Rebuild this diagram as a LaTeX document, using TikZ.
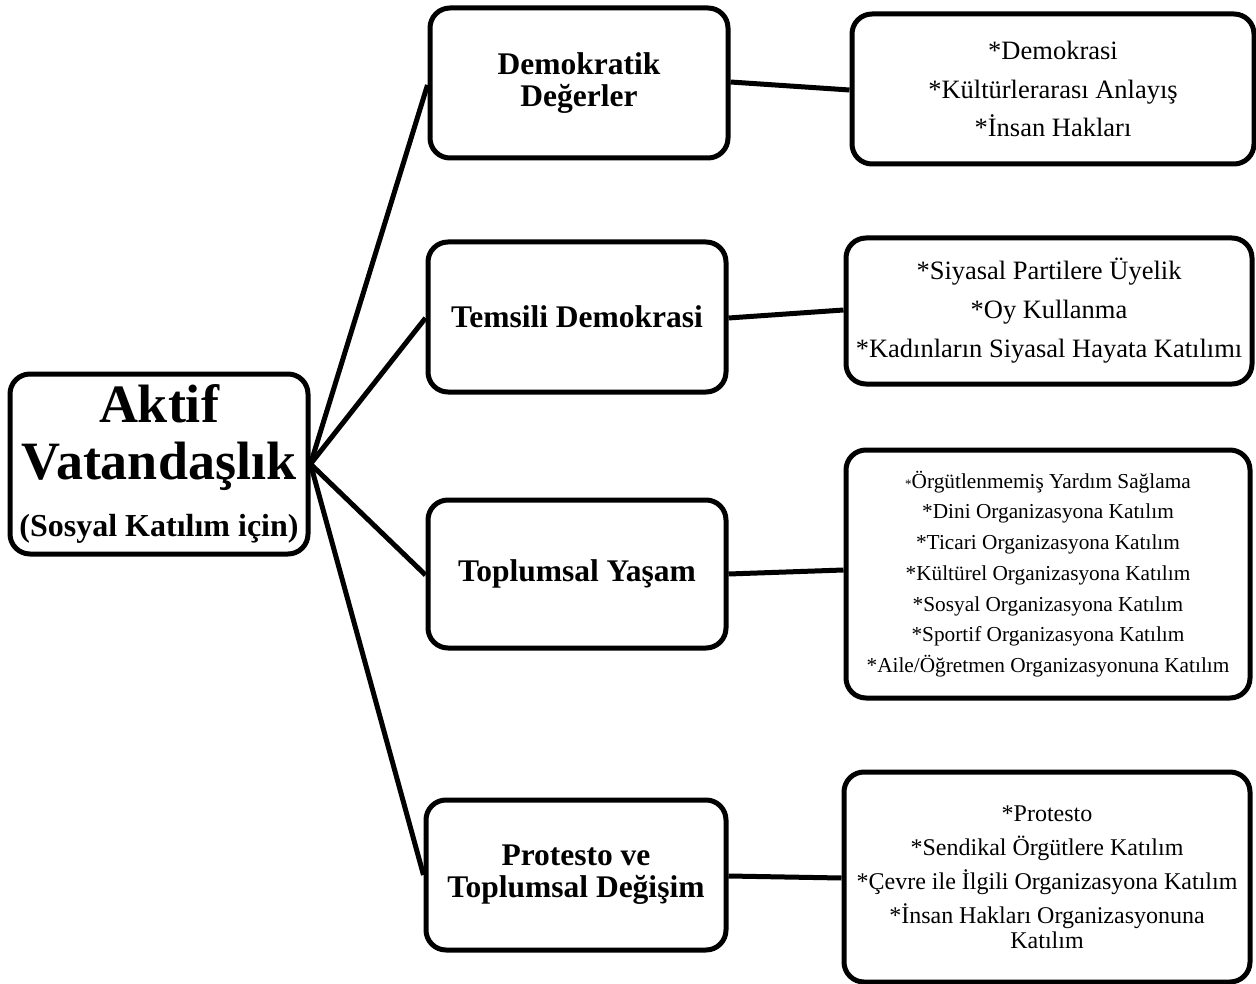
\documentclass[tikz,border=0pt]{standalone}
\usepackage{fontspec}
\setmainfont{Liberation Serif}
\begin{document}
\begin{tikzpicture}[x=1pt,y=-1pt,
  box/.style={draw=black, line width=5pt, rounded corners=20pt, fill=white, align=center, inner sep=0pt},
  midbox/.style={box, minimum width=298pt, minimum height=150pt, font=\bfseries\fontsize{31.5}{32}\selectfont},
  link/.style={line width=5pt}]
\useasboundingbox (0,0) rectangle (1256,984);
% root
\node[box, minimum width=298pt, minimum height=180pt, font=\bfseries\fontsize{54}{57}\selectfont] (root) at (159,464)
  {Aktif\\Vatandaşlık\\[0pt]{\fontsize{32}{34}\selectfont(Sosyal Katılım için)}};
% middle
\node[midbox] (m1) at (579,83) {Demokratik\\Değerler};
\node[midbox] (m2) at (577,317) {Temsili Demokrasi};
\node[midbox, minimum height=148pt] (m3) at (577,574) {Toplumsal Yaşam};
\node[midbox, minimum width=300pt] (m4) at (576,875) {Protesto ve\\Toplumsal Değişim};
% right
\node[box, minimum width=402pt, minimum height=150pt, font=\fontsize{26.5}{38.5}\selectfont] (r1) at (1053,89)
  {*Demokrasi\\*Kültürlerarası Anlayış\\*İnsan Hakları};
\node[box, minimum width=406pt, minimum height=146pt, font=\fontsize{26.5}{39}\selectfont] (r2) at (1049,311)
  {*Siyasal Partilere Üyelik\\*Oy Kullanma\\*Kadınların Siyasal Hayata Katılımı};
\node[box, minimum width=404pt, minimum height=248pt, font=\fontsize{21.3}{30.7}\selectfont] (r3) at (1048,574)
  {{\fontsize{13}{13}\selectfont*}Örgütlenmemiş Yardım Sağlama\\*Dini Organizasyona Katılım\\*Ticari Organizasyona Katılım\\*Kültürel Organizasyona Katılım\\*Sosyal Organizasyona Katılım\\*Sportif Organizasyona Katılım\\*Aile/Öğretmen Organizasyonuna Katılım};
\node[box, minimum width=406pt, minimum height=210pt, font=\fontsize{24}{34}\selectfont] (r4) at (1047,877)
  {*Protesto\\*Sendikal Örgütlere Katılım\\*Çevre ile İlgili Organizasyona Katılım\\*İnsan Hakları Organizasyonuna\\[-9pt]Katılım};
% connectors
\coordinate (hub) at (root.east);
\draw[link] (hub) -- (m1.west|-0,85);
\draw[link] (hub) -- (m2.west|-0,318);
\draw[link] (hub) -- (m3.west|-0,575);
\draw[link] (hub) -- (m4.west|-0,875);
\draw[link] (m1.east|-0,82) -- (r1.west|-0,90);
\draw[link] (m2.east|-0,318) -- (r2.west|-0,310);
\draw[link] (m3.east|-0,574) -- (r3.west|-0,570);
\draw[link] (m4.east|-0,876) -- (r4.west|-0,878);
\end{tikzpicture}
\end{document}
